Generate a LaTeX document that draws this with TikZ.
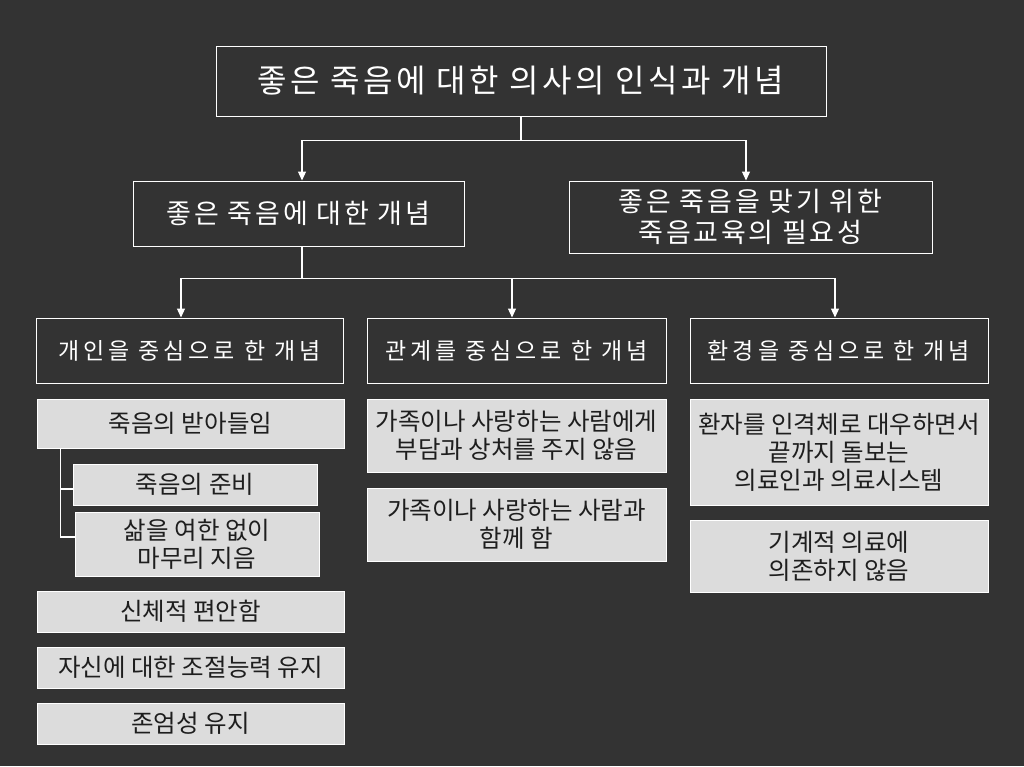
\documentclass[tikz,border=0pt]{standalone}
\usepackage{fontspec}
\setmainfont{Noto Sans CJK KR}
\newfontfamily\wideA[LetterSpace=11]{Noto Sans CJK KR}
\newfontfamily\wideB[LetterSpace=10]{Noto Sans CJK KR}
\newfontfamily\wideC[LetterSpace=17]{Noto Sans CJK KR}
\usetikzlibrary{arrows.meta}
\definecolor{bg}{HTML}{333333}
\definecolor{boxgray}{HTML}{DCDCDC}
\definecolor{txt}{HTML}{1E1E1E}
\begin{document}
\begin{tikzpicture}[x=1pt,y=-1pt,
  dbox/.style={draw=white, line width=1pt, fill=bg, text=white, inner sep=0pt, align=center},
  gbox/.style={draw=white, line width=1pt, fill=boxgray, text=txt, inner sep=0pt, align=center, font=\fontsize{24.5}{28}\selectfont},
  link/.style={draw=white, line width=1.2pt},
  arr/.style={link, -{Triangle[width=8pt,length=9pt]}}]
\fill[bg] (0,0) rectangle (1024,766);
\useasboundingbox (0,0) rectangle (1024,766);

\node[dbox, minimum width=610pt, minimum height=70pt, font=\wideA\fontsize{32}{36}\selectfont] (title) at (521,81) {좋은 죽음에 대한 의사의 인식과 개념};
\node[dbox, minimum width=331pt, minimum height=65pt, font=\wideB\fontsize{27}{31}\selectfont] (b1) at (298.5,213.5) {좋은 죽음에 대한 개념};
\node[dbox, minimum width=363pt, minimum height=72pt, font=\wideB\fontsize{27}{31}\selectfont] (b2) at (750.5,217) {좋은 죽음을 맞기 위한\\죽음교육의 필요성};

\node[dbox, minimum width=307pt, minimum height=65pt, font=\wideC\fontsize{23}{26}\selectfont] (r1) at (189.5,350.5) {개인을 중심으로 한 개념};
\node[dbox, minimum width=299pt, minimum height=65pt, font=\wideC\fontsize{23}{26}\selectfont] (r2) at (516.5,350.5) {관계를 중심으로 한 개념};
\node[dbox, minimum width=298pt, minimum height=65pt, font=\wideC\fontsize{23}{26}\selectfont] (r3) at (839,350.5) {환경을 중심으로 한 개념};

\node[gbox, minimum width=307pt, minimum height=49pt] (a1) at (190.5,423.5) {죽음의 받아들임};
\node[gbox, minimum width=244pt, minimum height=41pt] (a2) at (195,484.5) {죽음의 준비};
\node[gbox, minimum width=244pt, minimum height=64pt] (a3) at (197,544) {삶을 여한 없이\\마무리 지음};
\node[gbox, minimum width=307pt, minimum height=41pt] (a4) at (190.5,611.5) {신체적 편안함};
\node[gbox, minimum width=307pt, minimum height=41pt] (a5) at (190.5,667.5) {자신에 대한 조절능력 유지};
\node[gbox, minimum width=307pt, minimum height=41pt] (a6) at (190.5,723.5) {존엄성 유지};

\node[gbox, minimum width=299pt, minimum height=73pt] (m1) at (516.5,435.5) {가족이나 사랑하는 사람에게\\부담과 상처를 주지 않음};
\node[gbox, minimum width=299pt, minimum height=73pt] (m2) at (516.5,524.5) {가족이나 사랑하는 사람과\\함께 함};

\node[gbox, minimum width=298pt, minimum height=106pt] (c1) at (839,452) {환자를 인격체로 대우하면서\\끝까지 돌보는\\의료인과 의료시스템};
\node[gbox, minimum width=298pt, minimum height=72pt] (c2) at (839,556) {기계적 의료에\\의존하지 않음};

\draw[link] (title.south) -- ++(0,24) coordinate (j1);
\draw[arr] (j1) -| ([xshift=3.5pt]b1.north);
\draw[arr] (j1) -| ([xshift=-4.5pt]b2.north);
\draw[link] ([xshift=3.5pt]b1.south) -- ++(0,32) coordinate (j2);
\draw[arr] (j2) -| ([xshift=-8.5pt]r1.north);
\draw[arr] (j2) -| ([xshift=-4.5pt]r2.north);
\draw[arr] (j2) -| ([xshift=-4pt]r3.north);

\draw[link] ([xshift=24pt]a1.south west) |- ([yshift=7pt]a3.west);
\draw[link] ([xshift=24pt]a1.south west) |- ([yshift=-4.5pt]a2.west);
\end{tikzpicture}
\end{document}
